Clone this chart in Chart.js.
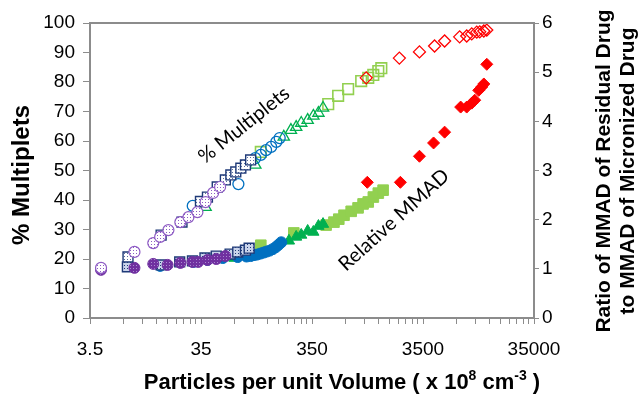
<!DOCTYPE html>
<html><head><meta charset="utf-8">
<script src="https://cdn.jsdelivr.net/npm/chart.js@4.4.1/dist/chart.umd.min.js"></script>
<style>html,body{margin:0;padding:0;background:#fff;}#wrap{width:642px;height:397px;}</style>
</head><body><div id="wrap"><canvas id="c" width="642" height="397"></canvas></div>
<script>
// ---- tick labels ----
const xTickLabels = ['3.5', '35', '350', '3500', '35000'];
const xMinorMultipliers = [2, 3, 4, 5, 6, 7, 8, 9];

// ---- % Multiplets (left axis) ----
const purpleMultX = [4.4, 8.8, 13, 15, 17.8, 22.8, 27, 32.5, 38.5, 45, 52];
const purpleMultY = [17, 22.4, 25.4, 27.5, 29.8, 32.5, 34.2, 35.9, 39.3, 42.4, 44.4];
const navyMultX = [7.7, 15.3, 23.6, 34.6, 40, 49, 58, 65, 72, 80, 88, 98];
const navyMultY = [20.7, 28.1, 32.5, 39.5, 41.0, 44.4, 46.8, 48.5, 49.5, 50.8, 51.9, 53.6];
const blueMultX = [29.5, 76, 108, 121, 135, 150, 167, 179];
const blueMultY = [38, 45.4, 54.2, 55.3, 56.9, 58, 59.7, 61];
const greenMultX = [38.5, 108, 195, 226, 252, 280, 320, 360, 400, 440];
const greenMultY = [37.6, 51.9, 61.4, 63.7, 64.7, 66.1, 67.1, 68.5, 69.5, 71.2];
const lgreenMultX = [121, 490, 602, 741, 971, 1124, 1248, 1385, 1474];
const lgreenMultY = [56.3, 72.5, 75.3, 77.6, 80.3, 81.4, 82.4, 83.7, 84.7];
const redMultX = [1078, 2143, 3252, 4449, 5480, 7484, 8667, 9619, 10672, 11358, 12358, 13145];
const redMultY = [81.4, 88.1, 90.2, 92.2, 93.9, 95.3, 95.6, 96.3, 96.9, 97.0, 97.3, 97.6];

// ---- Relative MMAD (right axis) ----
const purpleMmadX = [4.4, 8.8, 13, 17.5, 22.8, 29.3, 33, 40, 48, 58];
const purpleMmadY = [0.98, 1.02, 1.10, 1.08, 1.12, 1.14, 1.14, 1.18, 1.20, 1.26];
const navyMmadX = [7.6, 15.3, 22.5, 29.3, 38, 48, 64, 75, 88, 95];
const navyMmadY = [1.04, 1.08, 1.14, 1.16, 1.22, 1.26, 1.30, 1.34, 1.38, 1.42];
const blueMmadX = [15, 30, 40, 55, 75, 90, 98, 105, 112, 120, 128, 136, 145, 155, 165, 175, 185];
const blueMmadY = [1.06, 1.14, 1.18, 1.22, 1.24, 1.25, 1.26, 1.28, 1.29, 1.31, 1.33, 1.35, 1.37, 1.40, 1.44, 1.49, 1.54];
const greenMmadX = [38, 70, 217, 252, 280, 320, 360, 400, 440];
const greenMmadY = [1.18, 1.22, 1.57, 1.65, 1.69, 1.77, 1.75, 1.87, 1.91];
const lgreenMmadX = [121, 240, 469, 552, 610, 680, 789, 910, 1010, 1124, 1250, 1385, 1530];
const lgreenMmadY = [1.48, 1.73, 1.89, 1.95, 2.01, 2.09, 2.17, 2.24, 2.32, 2.36, 2.46, 2.54, 2.60];
const redMmadX = [1102, 2189, 3252, 4358, 5480, 7644, 8667, 9619, 10234, 11120, 11842, 12358, 13145];
const redMmadY = [2.76, 2.76, 3.29, 3.56, 3.78, 4.29, 4.29, 4.37, 4.43, 4.63, 4.70, 4.76, 5.16];

// ---- helpers ----
function pts(xs, ys) { return xs.map((x, i) => ({ x: x, y: ys[i] })); }
function dotPattern(bg, dot) {
  const c = document.createElement('canvas'); c.width = 3; c.height = 3;
  const g = c.getContext('2d');
  g.fillStyle = bg; g.fillRect(0, 0, 3, 3);
  g.fillStyle = dot; g.fillRect(1, 1, 1, 1);
  return g.createPattern(c, 'repeat');
}
const C = { purple: '#7030A0', navy: '#1F3A78', blue: '#0070C0', green: '#00B050', lgreen: '#92D050', red: '#FF0000' };
const majorVals = xTickLabels.map(Number);
const tickVals = [];
majorVals.forEach((m, i) => {
  tickVals.push(m);
  if (i < majorVals.length - 1) xMinorMultipliers.forEach(k => tickVals.push(m * k));
});

function ds(xs, ys, axis, style, color, bg, r, bw) {
  return { data: pts(xs, ys), yAxisID: axis, pointStyle: style, pointRadius: r,
    pointBorderColor: color, pointBackgroundColor: bg, pointBorderWidth: bw, showLine: false };
}
const none = 'rgba(255,255,255,0)';
const datasets = [
  ds(redMultX, redMultY, 'y', 'rectRot', C.red, none, 6, 1.3),
  ds(redMmadX, redMmadY, 'y2', 'rectRot', C.red, C.red, 6, 1),
  ds(purpleMultX, purpleMultY, 'y', 'circle', '#8E5CC4', dotPattern('#fff', '#8E5CC4'), 5.5, 1.2),
  ds(navyMultX, navyMultY, 'y', 'rect', C.navy, dotPattern('#fff', '#5a6fa0'), 7, 1.4),
  ds(blueMultX, blueMultY, 'y', 'circle', C.blue, none, 5.5, 1.3),
  ds(greenMultX, greenMultY, 'y', 'triangle', C.green, none, 6.5, 1.3),
  ds(lgreenMultX, lgreenMultY, 'y', 'rect', C.lgreen, none, 7.5, 1.6),
  ds(purpleMmadX, purpleMmadY, 'y2', 'circle', C.purple, dotPattern(C.purple, '#a98ad0'), 5.5, 1),
  ds(navyMmadX, navyMmadY, 'y2', 'rect', C.navy, dotPattern('#c9d3ea', C.navy), 7, 1.4),
  ds(blueMmadX, blueMmadY, 'y2', 'circle', C.blue, C.blue, 5.5, 1),
  ds(greenMmadX, greenMmadY, 'y2', 'triangle', C.green, C.green, 6.5, 1),
  ds(lgreenMmadX, lgreenMmadY, 'y2', 'rect', C.lgreen, C.lgreen, 7.5, 1)
];

const AX = '#8c8c8c';
const FAM = '"Liberation Sans", Arial, sans-serif';
const tickFont = { family: FAM, size: 19 };

function drawRich(ctx, parts, cx, cy, size) {
  // parts: [text, isSuperscript]
  const big = 'bold ' + size + 'px ' + FAM, small = 'bold ' + Math.round(size * 0.62) + 'px ' + FAM;
  let w = 0;
  parts.forEach(p => { ctx.font = p[1] ? small : big; w += ctx.measureText(p[0]).width; });
  let x = cx - w / 2;
  ctx.textAlign = 'left'; ctx.textBaseline = 'alphabetic';
  parts.forEach(p => {
    ctx.font = p[1] ? small : big;
    ctx.fillText(p[0], x, p[1] ? cy - size * 0.42 : cy);
    x += ctx.measureText(p[0]).width;
  });
}

const decor = {
  id: 'decor',
  afterDraw(chart) {
    const { ctx, chartArea: a } = chart;
    ctx.save();
    ctx.strokeStyle = AX; ctx.lineWidth = 2;
    ctx.beginPath(); ctx.moveTo(a.left, a.top); ctx.lineTo(a.right, a.top); ctx.stroke();
    ctx.fillStyle = '#000';
    // annotations
    ctx.font = '20px Lato, "Open Sans", sans-serif';
    ctx.textAlign = 'center'; ctx.textBaseline = 'middle';
    ctx.save(); ctx.translate(244, 125); ctx.rotate(-38.5 * Math.PI / 180); ctx.fillText('% Multiplets', 0, 0); ctx.restore();
    ctx.save(); ctx.translate(394, 220); ctx.rotate(-42 * Math.PI / 180); ctx.fillText('Relative MMAD', 0, 0); ctx.restore();
    // left axis title
    ctx.font = 'bold 24px ' + FAM;
    ctx.save(); ctx.translate(22, 175); ctx.rotate(-Math.PI / 2); ctx.fillText('% Multiplets', 0, 0); ctx.restore();
    // right axis title
    ctx.font = 'bold 21px ' + FAM;
    ctx.save(); ctx.translate(604, 171); ctx.rotate(-Math.PI / 2);
    ctx.fillText('Ratio of MMAD of Residual Drug', 0, 0);
    ctx.fillText('to MMAD of Micronized Drug', 0, 24);
    ctx.restore();
    // x axis title
    drawRich(ctx, [['Particles per unit Volume ( x 10', false], ['8', true], [' cm', false], ['-3', true], [' )', false]], 342, 389, 22);
    ctx.restore();
  }
};

new Chart(document.getElementById('c'), {
  type: 'scatter',
  data: { datasets: datasets },
  options: {
    responsive: false, animation: false,
    layout: { padding: { top: 23, left: 0, right: 0, bottom: 0 } },
    plugins: { legend: { display: false }, tooltip: { enabled: false } },
    scales: {
      x: {
        type: 'logarithmic', position: 'bottom', min: majorVals[0], max: majorVals[majorVals.length - 1],
        afterBuildTicks(s) { s.ticks = tickVals.map(v => ({ value: v })); },
        afterFit(s) { s.height = 79; },
        grid: { drawOnChartArea: false, tickLength: 6, color: AX, tickColor: AX, tickWidth: 1 },
        border: { color: AX, width: 2 },
        ticks: {
          autoSkip: false, maxRotation: 0, minRotation: 0, padding: 14, color: '#000', font: tickFont,
          callback(v) { const i = majorVals.findIndex(m => Math.abs(m - v) / m < 1e-6); return i >= 0 ? xTickLabels[i] : ''; }
        },
        title: { display: false }
      },
      y: {
        position: 'left', min: 0, max: 100,
        afterFit(s) { s.width = 90; },
        grid: { drawOnChartArea: false, tickLength: 7, color: AX, tickColor: AX },
        border: { color: AX, width: 2 },
        ticks: { stepSize: 10, padding: 8, color: '#000', font: tickFont },
        title: { display: false }
      },
      y2: {
        position: 'right', min: 0, max: 6,
        afterFit(s) { s.width = 108; },
        grid: { drawOnChartArea: false, tickLength: 5, color: AX, tickColor: AX },
        border: { color: AX, width: 2 },
        ticks: { stepSize: 1, padding: 3, color: '#000', font: tickFont }
      }
    }
  },
  plugins: [decor]
});
</script></body></html>
